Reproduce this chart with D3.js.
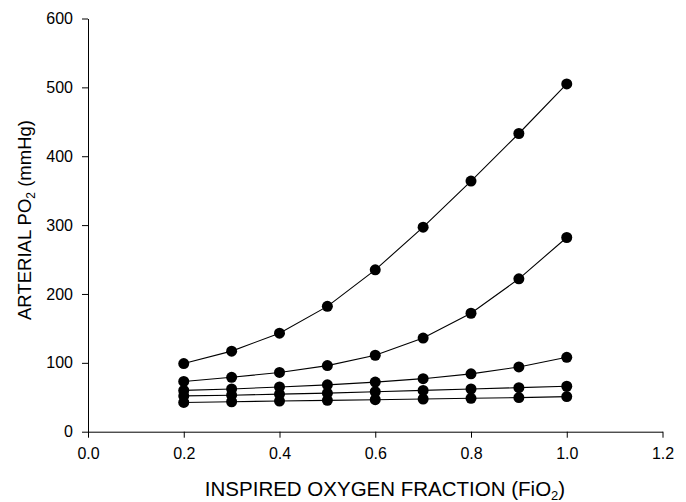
<!DOCTYPE html>
<html>
<head>
<meta charset="utf-8">
<script src="https://cdn.jsdelivr.net/npm/d3@7/dist/d3.min.js"></script>
<style>
  html, body { margin: 0; padding: 0; background: #fff; }
  svg { display: block; font-family: "Liberation Sans", Arial, sans-serif; }
</style>
</head>
<body>
<svg id="chart" width="686" height="502"></svg>
<script>
// Inspired oxygen fraction values (x)
const fio2 = [0.2, 0.3, 0.4, 0.5, 0.6, 0.7, 0.8, 0.9, 1.0];

// Arterial PO2 (mmHg) for each curve, top to bottom
const curveA = [99, 117, 143, 182, 235, 297, 364, 433, 505];
const curveB = [73, 79, 86, 96, 111, 136, 172, 222, 282];
const curveC = [60, 62, 65, 68, 72, 77, 84, 94, 108];
const curveD = [52, 53, 54.5, 56, 58, 60, 62, 64, 66];
const curveE = [42.5, 43.5, 44.5, 45.5, 46.5, 47.5, 48.5, 49.5, 51];

const xTicks = [0.0, 0.2, 0.4, 0.6, 0.8, 1.0, 1.2];
const yTicks = [0, 100, 200, 300, 400, 500, 600];

const series = [curveA, curveB, curveC, curveD, curveE];

const svg = d3.select("#chart");

const x = d3.scaleLinear().domain([0, 1.2]).range([88, 662.5]);
const y = d3.scaleLinear().domain([0, 600]).range([431.7, 18.5]);

// X axis
svg.append("g")
  .attr("transform", `translate(0,${y(0)})`)
  .call(d3.axisBottom(x).tickValues(xTicks).tickFormat(d3.format(".1f"))
    .tickSize(6).tickSizeOuter(0).tickPadding(10))
  .call(g => g.selectAll("text").attr("font-size", 16).attr("fill", "#000")
    .attr("font-family", "'Liberation Sans', Arial, sans-serif"))
  .call(g => g.selectAll("line,path").attr("stroke", "#000"));

// Y axis
svg.append("g")
  .attr("transform", `translate(${x(0)},0)`)
  .call(d3.axisLeft(y).tickValues(yTicks).tickFormat(d3.format("d"))
    .tickSize(6).tickSizeOuter(0).tickPadding(9))
  .call(g => g.selectAll("text").attr("font-size", 16).attr("fill", "#000")
    .attr("font-family", "'Liberation Sans', Arial, sans-serif"))
  .call(g => g.selectAll("line,path").attr("stroke", "#000"));

// Curves with markers
const line = d3.line().x((d, i) => x(fio2[i])).y(d => y(d));

const plot = svg.append("g");
series.forEach(vals => {
  plot.append("path")
    .datum(vals)
    .attr("d", line)
    .attr("fill", "none")
    .attr("stroke", "#000")
    .attr("stroke-width", 1.1);
});
series.forEach(vals => {
  plot.selectAll(null)
    .data(vals)
    .enter().append("circle")
    .attr("cx", (d, i) => x(fio2[i]))
    .attr("cy", d => y(d))
    .attr("r", 5.5)
    .attr("fill", "#000");
});

// X axis title
const xt = svg.append("text")
  .attr("x", 385)
  .attr("y", 496)
  .attr("text-anchor", "middle")
  .attr("font-size", 20.5)
  .attr("fill", "#000");
xt.append("tspan").text("INSPIRED OXYGEN FRACTION (FiO");
xt.append("tspan").attr("font-size", 13).attr("dy", 4).text("2");
xt.append("tspan").attr("dy", -4).text(")");

// Y axis title
const yt = svg.append("text")
  .attr("transform", "translate(31,220) rotate(-90)")
  .attr("text-anchor", "middle")
  .attr("font-size", 18.5)
  .attr("fill", "#000");
yt.append("tspan").text("ARTERIAL PO");
yt.append("tspan").attr("font-size", 12).attr("dy", 4).text("2");
yt.append("tspan").attr("dy", -4).text(" (mmHg)");
</script>
</body>
</html>
